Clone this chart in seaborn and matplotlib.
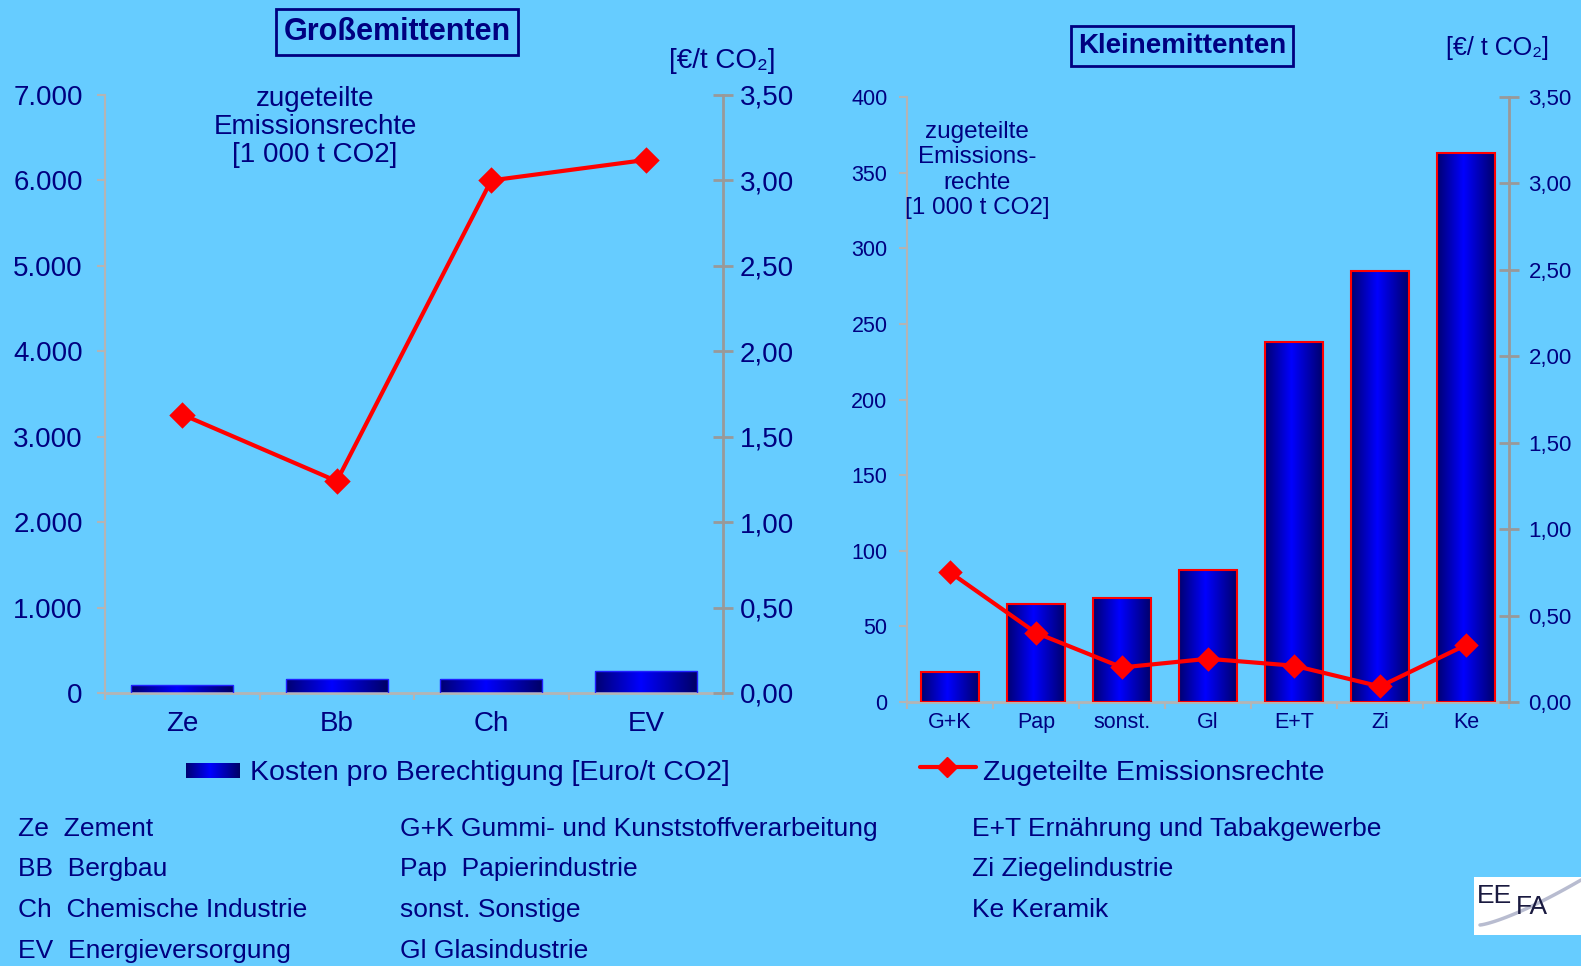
# %%
"""
# Emissionsrechte: Groß- und Kleinemittenten
"""

# %%
import matplotlib
matplotlib.use("Agg")
import numpy as np
import matplotlib.pyplot as plt
import seaborn as sns
from matplotlib.colors import LinearSegmentedColormap
from matplotlib.lines import Line2D
from matplotlib.patches import Rectangle
from matplotlib.ticker import FuncFormatter

# %%
# Data
gross_cats = ["Ze", "Bb", "Ch", "EV"]
gross_bars = [94, 164, 164, 258]
gross_line = [1.63, 1.24, 3.00, 3.12]

klein_cats = ["G+K", "Pap", "sonst.", "Gl", "E+T", "Zi", "Ke"]
klein_bars = [20, 65, 69, 87, 238, 285, 363]
klein_line = [0.75, 0.40, 0.20, 0.25, 0.21, 0.09, 0.33]

gross_yticks = [0, 1000, 2000, 3000, 4000, 5000, 6000, 7000]
klein_yticks = [0, 50, 100, 150, 200, 250, 300, 350, 400]
cost_ticks = [0.0, 0.5, 1.0, 1.5, 2.0, 2.5, 3.0, 3.5]

abbrev_col1 = ["Ze  Zement", "BB  Bergbau", "Ch  Chemische Industrie", "EV  Energieversorgung"]
abbrev_col2 = ["G+K Gummi- und Kunststoffverarbeitung", "Pap  Papierindustrie",
               "sonst. Sonstige", "Gl Glasindustrie"]
abbrev_col3 = ["E+T Ernährung und Tabakgewerbe", "Zi Ziegelindustrie", "Ke Keramik"]

# %%
BG = "#66CCFF"
NAVY = "#000080"
GRAY_L = "#B4B4B4"
GRAY_R = "#999999"
RED = "#FF0000"

sns.set_theme(style="white")
plt.rcParams["font.family"] = ["Liberation Sans", "DejaVu Sans"]

bar_cmap = LinearSegmentedColormap.from_list(
    "bar", [(0.0, "#000070"), (0.45, "#0000FF"), (1.0, "#000066")]
)
grad = np.linspace(0, 1, 256).reshape(1, -1)

thousands = FuncFormatter(lambda v, p: f"{v:,.0f}".replace(",", "."))
comma2 = FuncFormatter(lambda v, p: f"{v:.2f}".replace(".", ","))


def gradient_bars(ax, edgecolor, lw):
    xlim, ylim = ax.get_xlim(), ax.get_ylim()
    for patch in list(ax.patches):
        x0, y0 = patch.get_x(), patch.get_y()
        w, h = patch.get_width(), patch.get_height()
        im = ax.imshow(grad, extent=[x0, x0 + w, y0, y0 + h], aspect="auto",
                       cmap=bar_cmap, zorder=2, interpolation="bilinear")
        im.set_clip_path(patch)
        patch.set_facecolor("none")
        patch.set_edgecolor(edgecolor)
        patch.set_linewidth(lw)
        patch.set_zorder(3)
    ax.set_xlim(xlim)
    ax.set_ylim(ylim)


def panel(rect, cats, bars, line, yticks, ymax, bar_w, bar_edge, sizes):
    tick_fs, rtick_fs, cat_fs, left_pad, right_pad, cat_pad, ms, lw = sizes
    ax = fig.add_axes(rect)
    ax.set_facecolor("none")
    sns.barplot(x=cats, y=bars, ax=ax, width=bar_w, color="#0000FF",
                saturation=1, edgecolor=bar_edge, linewidth=1.2)
    ax.set_ylim(0, ymax)
    ax.set_xlim(-0.5, len(cats) - 0.5)
    gradient_bars(ax, bar_edge, 1.5 if bar_edge == RED else 1.0)

    ax2 = ax.twinx()
    sns.pointplot(x=cats, y=line, ax=ax2, color=RED, markers="D",
                  errorbar=None, markersize=ms, linewidth=lw)
    ax2.set_ylim(0, 3.5)

    # axes styling
    for s in ["top", "right"]:
        ax.spines[s].set_visible(False)
    for s in ["top", "left", "bottom"]:
        ax2.spines[s].set_visible(False)
    ax.spines["left"].set_color(GRAY_L)
    ax.spines["left"].set_linewidth(1.5)
    ax.spines["bottom"].set_color(GRAY_L)
    ax.spines["bottom"].set_linewidth(2)
    ax2.spines["right"].set_color(GRAY_R)
    ax2.spines["right"].set_linewidth(2)

    ax.set_yticks(yticks)
    ax.yaxis.set_major_formatter(thousands)
    ax.tick_params(axis="y", direction="out", length=6, width=1.5, color=GRAY_L,
                   labelcolor=NAVY, labelsize=tick_fs, pad=left_pad, left=True)
    ax2.set_yticks(cost_ticks)
    ax2.yaxis.set_major_formatter(comma2)
    ax2.tick_params(axis="y", direction="inout", length=14, width=2, color=GRAY_R,
                    labelcolor=NAVY, labelsize=rtick_fs, pad=right_pad, right=True)

    ax.set_xticks(range(len(cats)))
    ax.set_xticklabels(cats)
    ax.set_xticks(np.arange(-0.5, len(cats), 1.0), minor=True)
    ax.tick_params(axis="x", which="major", length=0, labelcolor=NAVY,
                   labelsize=cat_fs, pad=cat_pad, bottom=True)
    ax.tick_params(axis="x", which="minor", direction="out", length=5, width=1.5,
                   color=GRAY_L, bottom=True)
    ax.set_xlim(-0.5, len(cats) - 0.5)
    for a in (ax, ax2):
        a.set_xlabel("")
        a.set_ylabel("")
        a.grid(False)
    return ax, ax2


# %%
W, H = 1581, 966
fig = plt.figure(figsize=(W / 100, H / 100), dpi=100, facecolor=BG)


def fx(px):
    return px / W


def fy(py):
    return 1 - py / H


panel([fx(105), fy(693), fx(723 - 105), (693 - 95) / H],
      gross_cats, gross_bars, gross_line, gross_yticks, 7000, 0.66, "#2020FF",
      (20, 20, 20, 10, 5, 13, 11, 3))
panel([fx(907), fy(702), fx(1509 - 907), (702 - 97) / H],
      klein_cats, klein_bars, klein_line, klein_yticks, 400, 0.68, RED,
      (15.5, 16, 15.5, 8, 7, 7, 10, 3))

# titles
box = dict(boxstyle="square,pad=0.25", fc="none", ec=NAVY, lw=2)
fig.text(fx(397), fy(32), "Großemittenten", ha="center", va="center",
         fontsize=22, fontweight="bold", color=NAVY, bbox=box)
fig.text(fx(1182), fy(46), "Kleinemittenten", ha="center", va="center",
         fontsize=20, fontweight="bold", color=NAVY, bbox=box)

# axis annotations
fig.text(fx(315), fy(127), "zugeteilte\nEmissionsrechte\n[1 000 t CO2]",
         ha="center", va="center", fontsize=20, color=NAVY, linespacing=1.12)
fig.text(fx(977), fy(170), "zugeteilte\nEmissions-\nrechte\n[1 000 t CO2]",
         ha="center", va="center", fontsize=17.5, color=NAVY, linespacing=1.2)
fig.text(fx(722), fy(61), "[€/t CO\u2082]", ha="center", va="center",
         fontsize=20, color=NAVY)
fig.text(fx(1497), fy(48), "[€/ t CO\u2082]", ha="center", va="center",
         fontsize=18, color=NAVY)

# legend row
kax = fig.add_axes([fx(186), fy(778), fx(54), 15 / H])
kax.imshow(grad, aspect="auto", cmap=bar_cmap, interpolation="bilinear")
kax.set_axis_off()
fig.text(fx(250), fy(773), "Kosten pro Berechtigung [Euro/t CO2]", ha="left",
         va="center", fontsize=20.5, color=NAVY)
fig.add_artist(Line2D([fx(920), fx(976)], [fy(767), fy(767)], color=RED, lw=3,
                      transform=fig.transFigure))
fig.add_artist(Line2D([fx(947)], [fy(767)], color=RED, marker="D", markersize=10,
                      transform=fig.transFigure))
fig.text(fx(983), fy(773), "Zugeteilte Emissionsrechte", ha="left",
         va="center", fontsize=20.5, color=NAVY)

# abbreviations
rows_y = [829, 869, 910, 951]
for col_x, col in [(18, abbrev_col1), (400, abbrev_col2), (972, abbrev_col3)]:
    for y, txt in zip(rows_y, col):
        fig.text(fx(col_x), fy(y), txt, ha="left", va="center",
                 fontsize=19, color=NAVY)

# EEFA logo
fig.add_artist(Rectangle((fx(1474), fy(935)), fx(107), 58 / H, facecolor="white",
                         edgecolor="none", transform=fig.transFigure))
sx = np.linspace(1480, 1581, 50)
sy = 925 - 45 * ((sx - 1480) / 101) ** 1.3
fig.add_artist(Line2D(fx(sx), fy(sy), color="#B8BCD0", lw=2.5,
                      transform=fig.transFigure))
fig.text(fx(1477), fy(896), "EE", ha="left", va="center", fontsize=19,
         color="#1A1A40")
fig.text(fx(1516), fy(907), "FA", ha="left", va="center", fontsize=19,
         color="#1A1A40")

fig.savefig("out.png", dpi=100, facecolor=BG)
